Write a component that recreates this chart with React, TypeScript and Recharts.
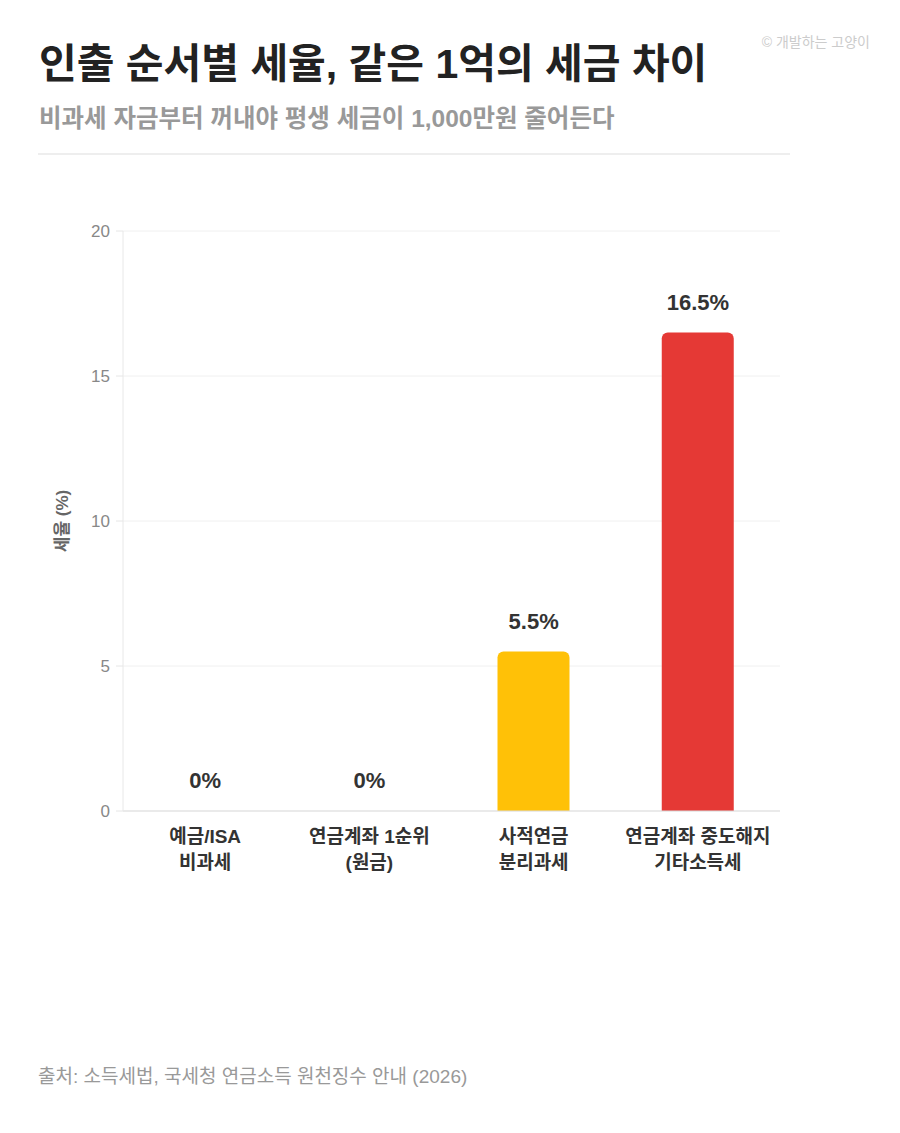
import React from 'react';
import { ComposedChart, Bar, Line, XAxis, YAxis, CartesianGrid, Cell, LabelList } from 'recharts';

const categories = ['예금/ISA\n비과세', '연금계좌 1순위\n(원금)', '사적연금\n분리과세', '연금계좌 중도해지\n기타소득세'];
const taxRates = [0, 0, 5.5, 16.5];
const barColors = ['#9E9E9E', '#9E9E9E', '#FFC107', '#E53935'];
const yTicks = [0, 5, 10, 15, 20];

const data = categories.map((c, i) => ({ name: c, rate: taxRates[i] }));

const FONT = '"Liberation Sans", "Noto Sans CJK KR", sans-serif';

const XTick = (props: any) => {
  const { x, y, payload } = props;
  const lines = String(payload.value).split('\n');
  return (
    <g transform={`translate(${x},${y})`}>
      <text textAnchor="middle" fill="#333" fontSize={19} fontWeight={700} fontFamily={FONT}>
        {lines.map((l: string, i: number) => (
          <tspan key={i} x={0} dy={i === 0 ? 24 : 26}>{l}</tspan>
        ))}
      </text>
    </g>
  );
};

const ValueLabel = (props: any) => {
  const { x, y, width, value } = props;
  if (x == null || y == null) return null;
  const cx = Number(x) + (Number(width) || 0) / 2;
  return (
    <text
      x={cx}
      y={Number(y) - 23}
      textAnchor="middle"
      fill="#333"
      fontSize={22}
      fontWeight={700}
      fontFamily={FONT}
    >
      {`${value}%`}
    </text>
  );
};

export default function App() {
  return (
    <div style={{ position: 'absolute', left: 0, top: 0, width: 900, height: 1133, background: '#fff', fontFamily: FONT }}>
      <div style={{ position: 'absolute', right: 30, top: 33, fontSize: 14, lineHeight: '18px', color: '#ccc', whiteSpace: 'nowrap' }}>© 개발하는 고양이</div>
      <div style={{ position: 'absolute', left: 39, top: 40, fontSize: 41, lineHeight: '48px', fontWeight: 700, color: '#222', whiteSpace: 'nowrap' }}>
        인출 순서별 세율, 같은 1억의 세금 차이
      </div>
      <div style={{ position: 'absolute', left: 39, top: 105, fontSize: 24.5, lineHeight: '28px', fontWeight: 700, color: '#999', whiteSpace: 'nowrap' }}>
        비과세 자금부터 꺼내야 평생 세금이 1,000만원 줄어든다
      </div>
      <div style={{ position: 'absolute', left: 38, top: 153, width: 752, height: 2, background: '#eee' }} />
      <div style={{ position: 'absolute', left: 0, top: 180 }}>
        <ComposedChart width={900} height={720} data={data} margin={{ top: 51, right: 120, bottom: 59, left: 0 }}>
          <CartesianGrid vertical={false} stroke="#f0f0f0" />
          <XAxis
            dataKey="name"
            tick={<XTick />}
            tickLine={false}
            axisLine={{ stroke: '#ddd' }}
            interval={0}
          />
          <YAxis
            width={123}
            domain={[0, 20]}
            ticks={yTicks}
            tick={{ fill: '#888', fontSize: 17, fontFamily: FONT }}
            tickLine={{ stroke: '#e6e6e6' }}
            tickSize={7}
            tickMargin={6}
            axisLine={{ stroke: '#e8e8e8' }}
            label={{ value: '세율 (%)', angle: -90, position: 'center', fill: '#666', fontSize: 17, fontWeight: 700, fontFamily: FONT }}
          />
          <Bar dataKey="rate" barSize={72} radius={[6, 6, 0, 0]} isAnimationActive={false}>
            {data.map((d, i) => (
              <Cell key={i} fill={barColors[i]} />
            ))}
          </Bar>
          <Line
            dataKey="rate"
            stroke="none"
            dot={false}
            activeDot={false}
            legendType="none"
            isAnimationActive={false}
          >
            <LabelList dataKey="rate" content={<ValueLabel />} />
          </Line>
        </ComposedChart>
      </div>
      <div style={{ position: 'absolute', left: 38, top: 1066, fontSize: 19, lineHeight: '22px', color: '#999', whiteSpace: 'nowrap' }}>
        출처: 소득세법, 국세청 연금소득 원천징수 안내 (2026)
      </div>
    </div>
  );
}
